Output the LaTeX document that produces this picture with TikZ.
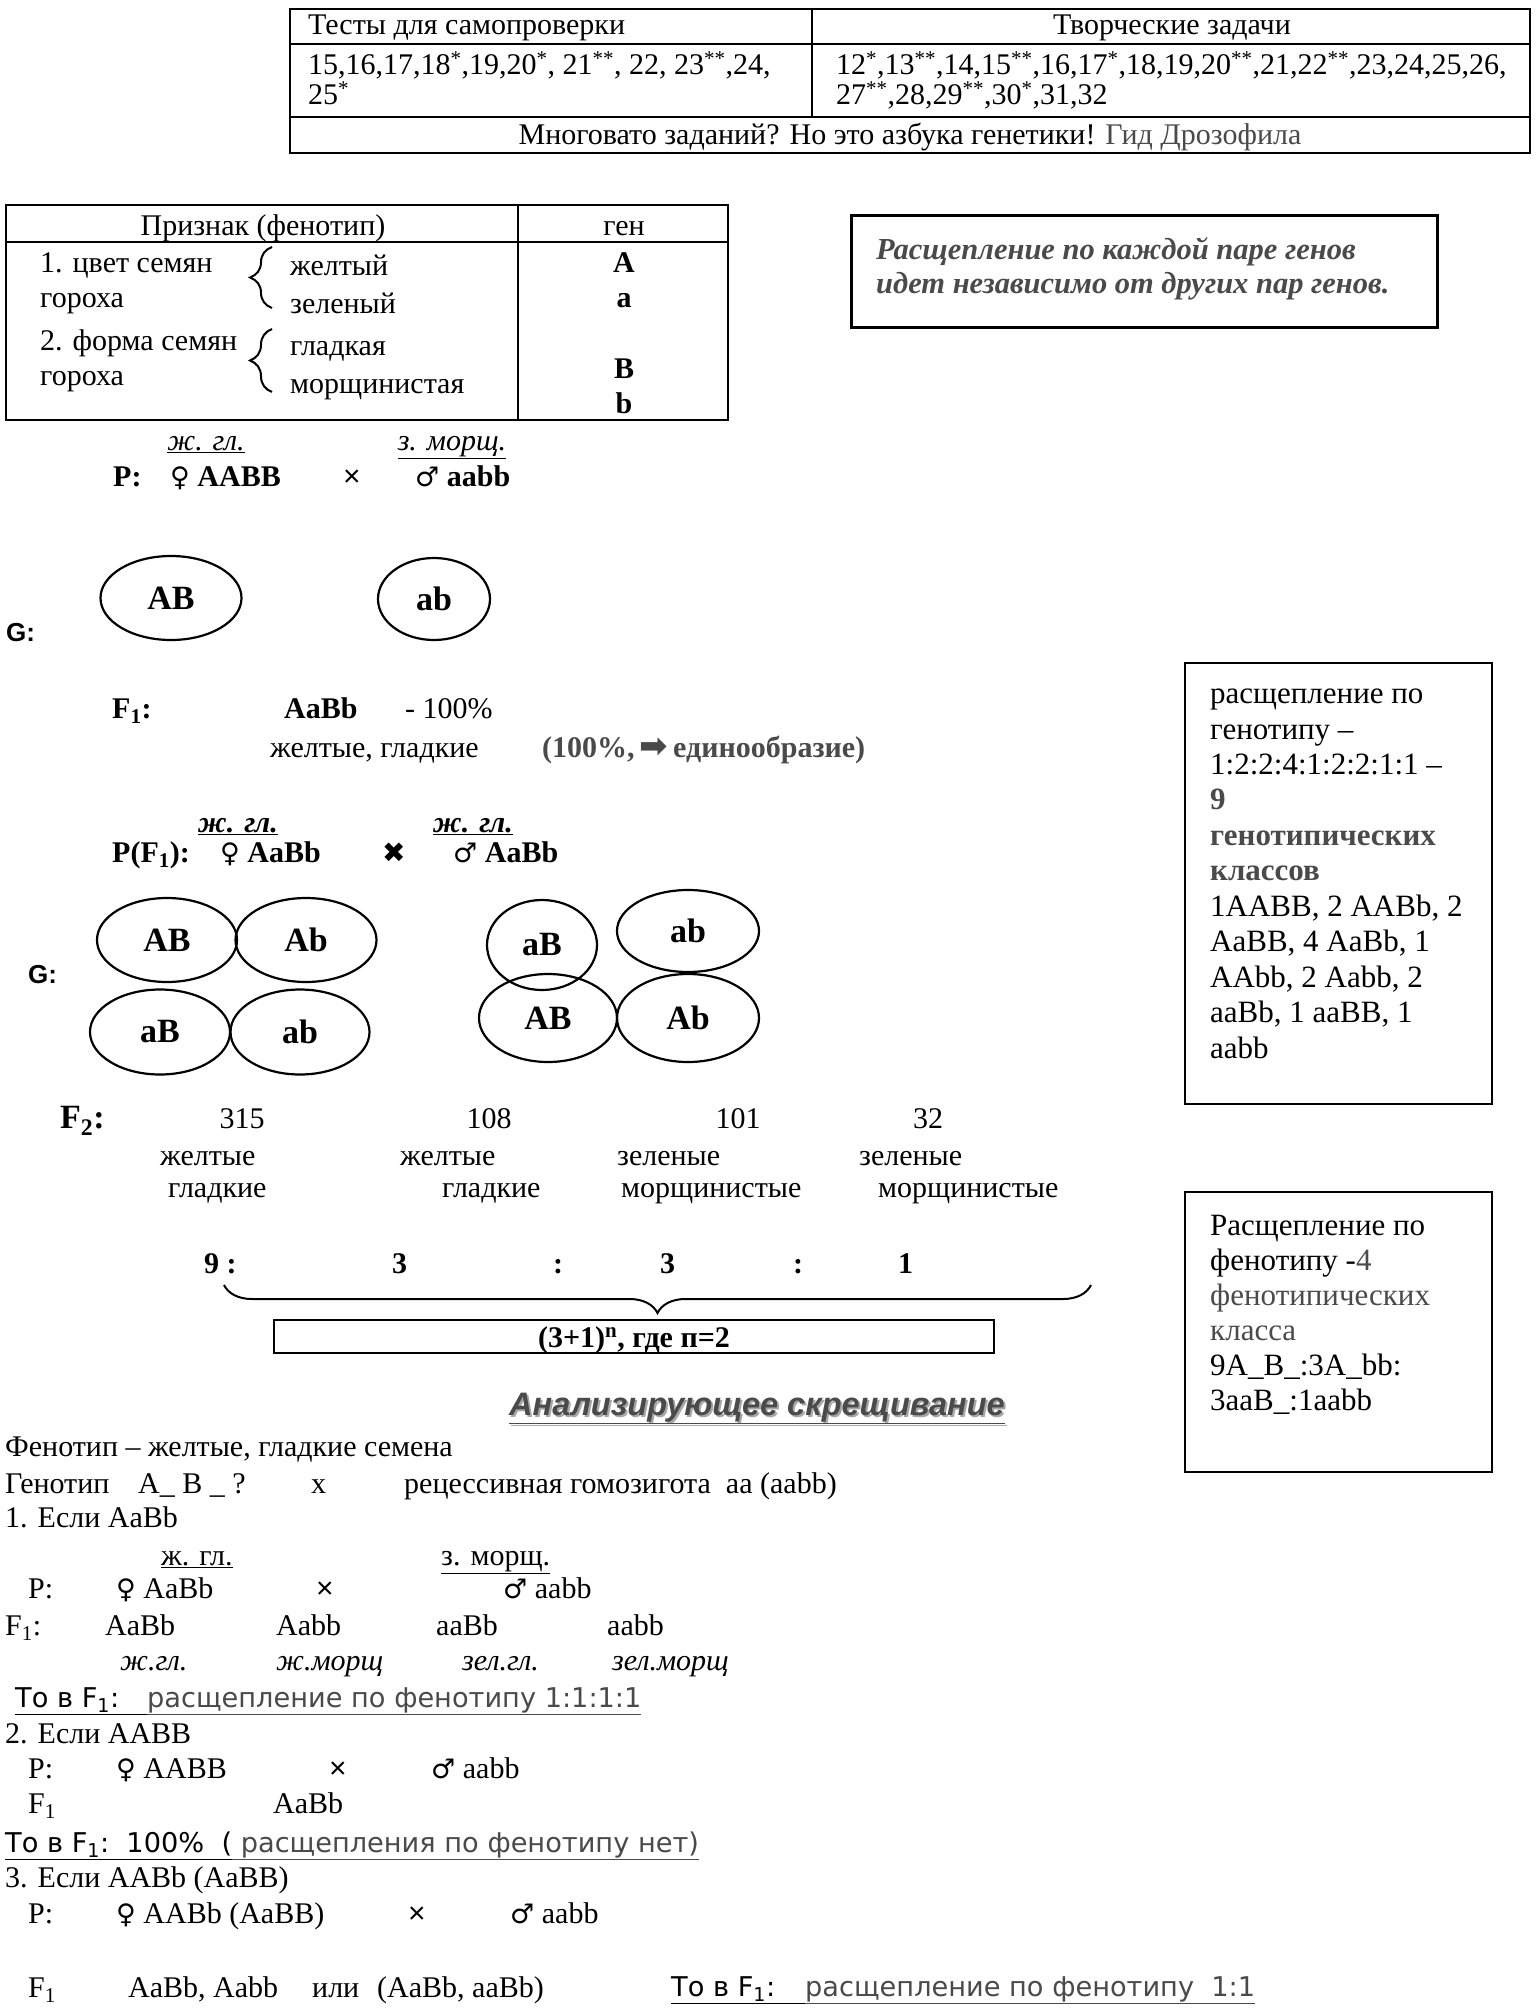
\documentclass[tikz,border=0pt]{standalone}
\usepackage{fontspec}
\setmainfont{Liberation Serif}
\newfontfamily\sansf{Liberation Sans}
\newfontfamily\dejavu{DejaVu Sans}
\newcommand{\fem}{{\dejavu\fontsize{27}{30}\selectfont\mdseries ♀}}
\newcommand{\mal}{{\dejavu\fontsize{27}{30}\selectfont\mdseries ♂}}
\usetikzlibrary{shapes.geometric,decorations.pathreplacing}
\definecolor{gtext}{HTML}{4A4A4A}
\definecolor{gshadow}{HTML}{A8A8A8}
\begin{document}
\begin{tikzpicture}[x=1pt,y=-1pt,
  tx/.style={anchor=base west,inner sep=0pt,font=\fontsize{30}{36}\selectfont},
  txc/.style={anchor=base,inner sep=0pt,font=\fontsize{30}{36}\selectfont},
  bx/.style={anchor=base west,inner sep=0pt,font=\fontsize{31}{36}\selectfont},
  sx/.style={anchor=base west,inner sep=0pt,font=\fontsize{27.2}{34}\dejavu},
  frame/.style={draw,line width=2pt},
  gam/.style={draw,ellipse,line width=2.2pt,inner sep=0pt,font=\fontsize{34}{40}\selectfont\bfseries},
  brc/.style={decorate,decoration={brace,amplitude=#1},line width=2pt},
]
\useasboundingbox[fill=white] (0,0) rectangle (1535,2015);

% ---------- top table
\draw[frame] (290,9) rectangle (1530,153);
\draw[frame] (290,44) -- (1530,44);
\draw[frame] (290,117) -- (1530,117);
\draw[frame] (812,9) -- (812,117);
\node[tx] (t1) at (308,35) {Тесты для самопроверки};
\node[txc] (t2) at (1172,35) {Творческие задачи};
\node[tx] (t3) at (308,75) {15,16,17,18\textsuperscript{*},19,20\textsuperscript{*}, 21\textsuperscript{**}, 22, 23\textsuperscript{**},24,};
\node[tx] (t4) at (308,105) {25\textsuperscript{*}};
\node[tx] (t5) at (836,75) {12\textsuperscript{*},13\textsuperscript{**},14,15\textsuperscript{**},16,17\textsuperscript{*},18,19,20\textsuperscript{**},21,22\textsuperscript{**},23,24,25,26,};
\node[tx] (t6) at (836,105) {27\textsuperscript{**},28,29\textsuperscript{**},30\textsuperscript{*},31,32};
\node[txc] (t7) at (910,145) {Многовато заданий? Но это азбука генетики! \textcolor{gtext}{Гид Дрозофила}};

% ---------- trait table
\draw[frame] (6,205) rectangle (728,420);
\draw[frame] (6,242) -- (728,242);
\draw[frame] (518,205) -- (518,420);
\node[txc] (h1) at (263,235) {Признак (фенотип)};
\node[txc] (h2) at (624,235) {ген};
\node[tx] (r1) at (40,272) {1. цвет семян};
\node[tx] (r2) at (40,307) {гороха};
\node[tx] (r3) at (40,350) {2. форма семян};
\node[tx] (r4) at (40,385) {гороха};
\draw[brc=22] (272,308) -- (272,247);
\draw[brc=22] (272,392) -- (272,329);
\node[tx] (v1) at (290,275) {желтый};
\node[tx] (v2) at (290,313) {зеленый};
\node[tx] (v3) at (290,355) {гладкая};
\node[tx] (v4) at (290,393) {морщинистая};
\node[txc,font=\fontsize{30}{36}\selectfont\bfseries] (g1) at (624,272) {A};
\node[txc,font=\fontsize{30}{36}\selectfont\bfseries] (g2) at (624,307) {a};
\node[txc,font=\fontsize{30}{36}\selectfont\bfseries] (g3) at (624,378) {B};
\node[txc,font=\fontsize{30}{36}\selectfont\bfseries] (g4) at (624,413) {b};

% ---------- italic box
\draw[line width=3pt] (851,215) rectangle (1437,327);
\node[tx,font=\fontsize{30.5}{36}\selectfont\bfseries\itshape,text=gtext] (i1) at (876,259) {Расщепление по каждой паре генов};
\node[tx,font=\fontsize{30.5}{36}\selectfont\bfseries\itshape,text=gtext] (i2) at (876,293) {идет независимо от других пар генов.};

% ---------- P
\node[txc,font=\fontsize{30}{36}\selectfont\itshape] (p1) at (206,450) {\underline{ж. гл.}};
\node[txc,font=\fontsize{30}{36}\selectfont\itshape] (p2) at (452,450) {\underline{з. морщ.}};
\node[tx,font=\fontsize{30}{36}\selectfont\bfseries] (p3) at (113,486) {P:};
\node[tx,font=\fontsize{30}{36}\selectfont\bfseries] (p4) at (170,486) {\fem\ AABB};
\node[tx,font=\fontsize{30}{36}\sansf] (p5) at (343,486) {×};
\node[tx,font=\fontsize{30}{36}\selectfont\bfseries] (p6) at (415,486) {\mal\ aabb};

% ---------- G
\node[anchor=base west,inner sep=0pt,font=\fontsize{26}{30}\sansf\bfseries] (G1) at (6,641) {G:};
\node[gam,minimum width=141,minimum height=84] (e1) at (171,598) {AB};
\node[gam,minimum width=112,minimum height=82] (e2) at (434,599) {ab};

% ---------- F1
\node[tx,font=\fontsize{30}{36}\selectfont\bfseries] (f1) at (112,718) {F\textsubscript{1}:};
\node[tx,font=\fontsize{30}{36}\selectfont\bfseries] (f2) at (284,718) {AaBb};
\node[tx] (f3) at (405,718) {- 100\%};
\node[tx] (f4) at (270,757) {желтые, гладкие};
\node[tx,font=\fontsize{30}{36}\selectfont\bfseries,text=gtext] (f5) at (542,757) {(100\%,\,{\dejavu\fontsize{34}{36}\selectfont ➡}\,единообразие)};

% ---------- P(F1)
\node[tx,font=\fontsize{30}{36}\selectfont\bfseries\itshape] (q1) at (198,832) {\underline{ж. гл.}};
\node[tx,font=\fontsize{30}{36}\selectfont\bfseries\itshape] (q2) at (433,832) {\underline{ж. гл.}};
\node[tx,font=\fontsize{30}{36}\selectfont\bfseries] (q3) at (112,862) {P(F\textsubscript{1}):};
\node[tx,font=\fontsize{30}{36}\selectfont\bfseries] (q4) at (220,862) {\fem\ AaBb};
\node[tx,font=\fontsize{28}{34}\dejavu] (q5) at (382,862) {✖};
\node[tx,font=\fontsize{30}{36}\selectfont\bfseries] (q6) at (453,862) {\mal\ AaBb};

% ---------- G (F1 gametes)
\node[anchor=base west,inner sep=0pt,font=\fontsize{26}{30}\sansf\bfseries] (G2) at (28,983) {G:};
\node[gam,minimum width=140,minimum height=84] (e3) at (167,940) {AB};
\node[gam,minimum width=141,minimum height=84] (e4) at (306,940) {Ab};
\node[gam,minimum width=140,minimum height=85] (e5) at (160,1032) {aB};
\node[gam,minimum width=139,minimum height=85] (e6) at (300,1032) {ab};
\node[gam,minimum width=110,minimum height=90] (e7) at (542,945) {aB};
\node[gam,minimum width=142,minimum height=82] (e8) at (688,931) {ab};
\node[gam,minimum width=138,minimum height=88] (e9) at (548,1018) {AB};
\node[gam,minimum width=142,minimum height=88] (e10) at (688,1018) {Ab};

% ---------- F2
\node[tx,font=\fontsize{34}{40}\selectfont\bfseries] (F2) at (60,1128) {F\textsubscript{2}:};
\node[txc] (n1) at (242,1128) {315};
\node[txc] (n2) at (489,1128) {108};
\node[txc] (n3) at (738,1128) {101};
\node[txc] (n4) at (928,1128) {32};
\node[tx] (c1) at (160,1165) {желтые};
\node[tx] (c2) at (400,1165) {желтые};
\node[tx] (c3) at (617,1165) {зеленые};
\node[tx] (c4) at (859,1165) {зеленые};
\node[tx] (d1) at (168,1197) {гладкие};
\node[tx] (d2) at (442,1197) {гладкие};
\node[tx] (d3) at (621,1197) {морщинистые};
\node[tx] (d4) at (878,1197) {морщинистые};
\node[tx,font=\fontsize{30}{36}\selectfont\bfseries] (s1) at (204,1273) {9 :};
\node[tx,font=\fontsize{30}{36}\selectfont\bfseries] (s2) at (392,1273) {3};
\node[tx,font=\fontsize{30}{36}\selectfont\bfseries] (s3) at (553,1273) {:};
\node[tx,font=\fontsize{30}{36}\selectfont\bfseries] (s4) at (660,1273) {3};
\node[tx,font=\fontsize{30}{36}\selectfont\bfseries] (s5) at (793,1273) {:};
\node[tx,font=\fontsize{30}{36}\selectfont\bfseries] (s6) at (898,1273) {1};
\draw[brc=28] (1091,1285) -- (224,1285);
\draw[line width=2pt] (274,1320) rectangle (994,1353);
\node[txc,font=\fontsize{30}{36}\selectfont\bfseries] (fm) at (634,1347) {(3+1)\textsuperscript{n}, где п=2};

% ---------- right boxes
\draw[frame] (1185,663) rectangle (1492,1104);
\node[bx] (b1) at (1210,703) {расщепление по};
\node[bx] (b2) at (1210,739) {генотипу –};
\node[bx] (b3) at (1210,774) {1:2:2:4:1:2:2:1:1 –};
\node[bx,font=\fontsize{31}{36}\selectfont\bfseries,text=gtext] (b4) at (1210,809) {9};
\node[bx,font=\fontsize{31}{36}\selectfont\bfseries,text=gtext] (b5) at (1210,845) {генотипических};
\node[bx,font=\fontsize{31}{36}\selectfont\bfseries,text=gtext] (b6) at (1210,880) {классов};
\node[bx] (b7) at (1210,916) {1AABB, 2 AABb, 2};
\node[bx] (b8) at (1210,951) {AaBB, 4 AaBb, 1};
\node[bx] (b9) at (1210,987) {AAbb, 2 Aabb, 2};
\node[bx] (b10) at (1210,1022) {aaBb, 1 aaBB, 1};
\node[bx] (b11) at (1210,1058) {aabb};

\draw[frame] (1185,1192) rectangle (1492,1472);
\node[bx] (k1) at (1210,1235) {Расщепление по};
\node[bx] (k2) at (1210,1270) {фенотипу -\textcolor{gtext}{4}};
\node[bx,text=gtext] (k3) at (1210,1305) {фенотипических};
\node[bx,text=gtext] (k4) at (1210,1340) {класса};
\node[bx] (k5) at (1210,1375) {9A\_B\_:3A\_bb:};
\node[bx] (k6) at (1210,1410) {3aaB\_:1aabb};

% ---------- analysing cross
\node[anchor=base west,inner sep=0pt,font=\fontsize{32.5}{38}\sansf\bfseries\itshape,text=gshadow] (an0) at (511,1417) {\underline{Анализирующее скрещивание}};
\node[anchor=base west,inner sep=0pt,font=\fontsize{32.5}{38}\sansf\bfseries\itshape,text=gtext] (an) at (509,1415) {\underline{Анализирующее скрещивание}};

\node[tx] (l1) at (5,1456) {Фенотип – желтые, гладкие семена};
\node[tx] (l2) at (5,1493) {Генотип};
\node[tx] (l2a) at (138,1493) {A\_ B \_ ?};
\node[tx] (l2b) at (311,1493) {x};
\node[tx] (l2c) at (404,1493) {рецессивная гомозигота\ \ аа (aabb)};
\node[tx] (l3) at (5,1527) {1. Если AaBb};
\node[tx] (l4a) at (161,1565) {\underline{ж. гл.}};
\node[tx] (l4b) at (441,1565) {\underline{з. морщ.}};
\node[tx] (l5a) at (28,1598) {P:};
\node[tx] (l5b) at (116,1598) {\fem\ AaBb};
\node[tx,font=\fontsize{30}{36}\sansf] (l5c) at (316,1598) {×};
\node[tx] (l5d) at (503,1598) {\mal\ aabb};
\node[tx] (l6a) at (5,1635) {F\textsubscript{1}:};
\node[tx] (l6b) at (105,1635) {AaBb};
\node[tx] (l6c) at (276,1635) {Aabb};
\node[tx] (l6d) at (436,1635) {aaBb};
\node[tx] (l6e) at (607,1635) {aabb};
\node[tx,font=\fontsize{30}{36}\selectfont\itshape] (l7a) at (120,1670) {ж.гл.};
\node[tx,font=\fontsize{30}{36}\selectfont\itshape] (l7b) at (276,1670) {ж.морщ};
\node[tx,font=\fontsize{30}{36}\selectfont\itshape] (l7c) at (462,1670) {зел.гл.};
\node[tx,font=\fontsize{30}{36}\selectfont\itshape] (l7d) at (612,1670) {зел.морщ};
\node[sx] (l8) at (15,1707) {\underline{То в F\textsubscript{1}:\hspace{28pt}}\textcolor{gtext}{\underline{расщепление по фенотипу 1:1:1:1}}};
\node[tx] (l9) at (5,1743) {2. Если AABB};
\node[tx] (l10a) at (28,1778) {P:};
\node[tx] (l10b) at (116,1778) {\fem\ AABB};
\node[tx,font=\fontsize{30}{36}\sansf] (l10c) at (329,1778) {×};
\node[tx] (l10d) at (431,1778) {\mal\ aabb};
\node[tx] (l11a) at (28,1813) {F\textsubscript{1}};
\node[tx] (l11b) at (273,1813) {AaBb};
\node[sx] (l12) at (5,1852) {\underline{То в F\textsubscript{1}:\ \ 100\%\ \ (}\textcolor{gtext}{\underline{\ расщепления по фенотипу нет)}}};
\node[tx] (l13) at (5,1887) {3. Если AABb (AaBB)};
\node[tx] (l14a) at (28,1923) {P:};
\node[tx] (l14b) at (116,1923) {\fem\ AABb (AaBB)};
\node[tx,font=\fontsize{30}{36}\sansf] (l14c) at (408,1923) {×};
\node[tx] (l14d) at (510,1923) {\mal\ aabb};
\node[tx] (l15a) at (28,1997) {F\textsubscript{1}};
\node[tx] (l15b) at (128,1997) {AaBb, Aabb};
\node[tx] (l15c) at (312,1997) {или};
\node[tx] (l15d) at (377,1997) {(AaBb, aaBb)};
\node[sx] (l16) at (671,1996) {\underline{То в F\textsubscript{1}:\hspace{30pt}}\textcolor{gtext}{\underline{расщепление по фенотипу\ \ 1:1}}};
\end{tikzpicture}
\end{document}
